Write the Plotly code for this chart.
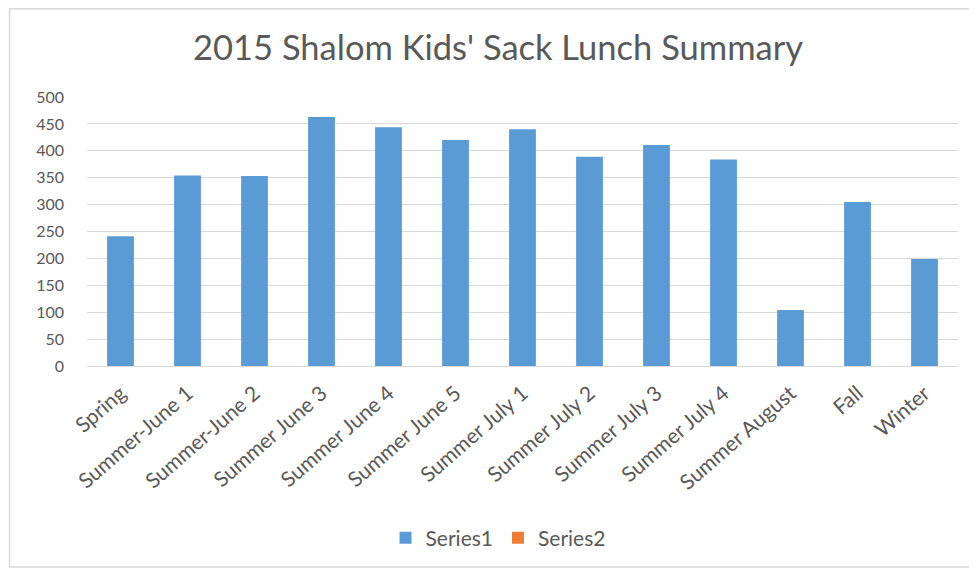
import plotly.graph_objects as go

categories = ["Spring", "Summer-June 1", "Summer-June 2", "Summer June 3", "Summer June 4",
              "Summer June 5", "Summer July 1", "Summer July 2", "Summer July 3",
              "Summer July 4", "Summer August", "Fall", "Winter"]
series1 = [241, 354, 353, 463, 444, 420, 440, 389, 411, 384, 104, 305, 199]
series2 = [None] * len(categories)
y_ticks = list(range(0, 501, 50))

W, H = 977, 569
OFF = 8  # page offset of the figure in the browser
# plot area in screen pixels
SX0, SX1, SY0, SY1 = 86.5, 958.5, 97, 366
L, T = SX0 - OFF, SY0 - OFF
R, B = W - (SX1 - OFF), H - (SY1 - OFF)
pw, ph = SX1 - SX0, SY1 - SY0

def px_x(px):
    return (px - SX0) / pw

def px_y(py):
    return (SY1 - py) / ph

fig = go.Figure()
fig.add_trace(go.Bar(x=categories, y=series1, name="Series1",
                     marker=dict(color="#5B9BD5", line=dict(width=0))))
fig.add_trace(go.Bar(x=categories, y=series2, name="Series2",
                     marker=dict(color="#ED7D31", line=dict(width=0))))

font_family = "Lato, 'Open Sans', sans-serif"
fig.update_layout(
    width=W, height=H,
    margin=dict(l=L, r=R, t=T, b=B),
    paper_bgcolor="white", plot_bgcolor="white",
    barmode="overlay", bargap=0.6,
    title=dict(text="2015 Shalom Kids' Sack Lunch Summary",
               x=px_x(498), xref="paper", xanchor="center",
               y=1 - (48 - OFF) / H, yanchor="middle",
               font=dict(family=font_family, size=34.5, color="#595959")),
    font=dict(family=font_family, color="#595959"),
    legend=dict(orientation="h", x=px_x(498), xanchor="center",
                y=px_y(538), yanchor="middle",
                font=dict(size=21, color="#595959"),
                itemwidth=30, traceorder="normal"),
    xaxis=dict(tickangle=-41, tickfont=dict(size=21, color="#595959"),
               showgrid=False, showline=True, linecolor="#D9D9D9",
               ticks="", automargin=False, ticklabelstandoff=6),
    yaxis=dict(range=[0, 500], tickvals=y_ticks, ticks="",
               tickfont=dict(size=16, color="#595959"),
               showgrid=True, gridcolor="#D9D9D9", gridwidth=1,
               zeroline=False, showline=False, automargin=False, ticklabelstandoff=22),
    shapes=[dict(type="rect", xref="paper", yref="paper",
                 x0=px_x(9), x1=px_x(1000), y0=px_y(567), y1=px_y(8.8),
                 line=dict(color="#D9D9D9", width=1.5), layer="below")],
)

fig.write_html("out.html")
